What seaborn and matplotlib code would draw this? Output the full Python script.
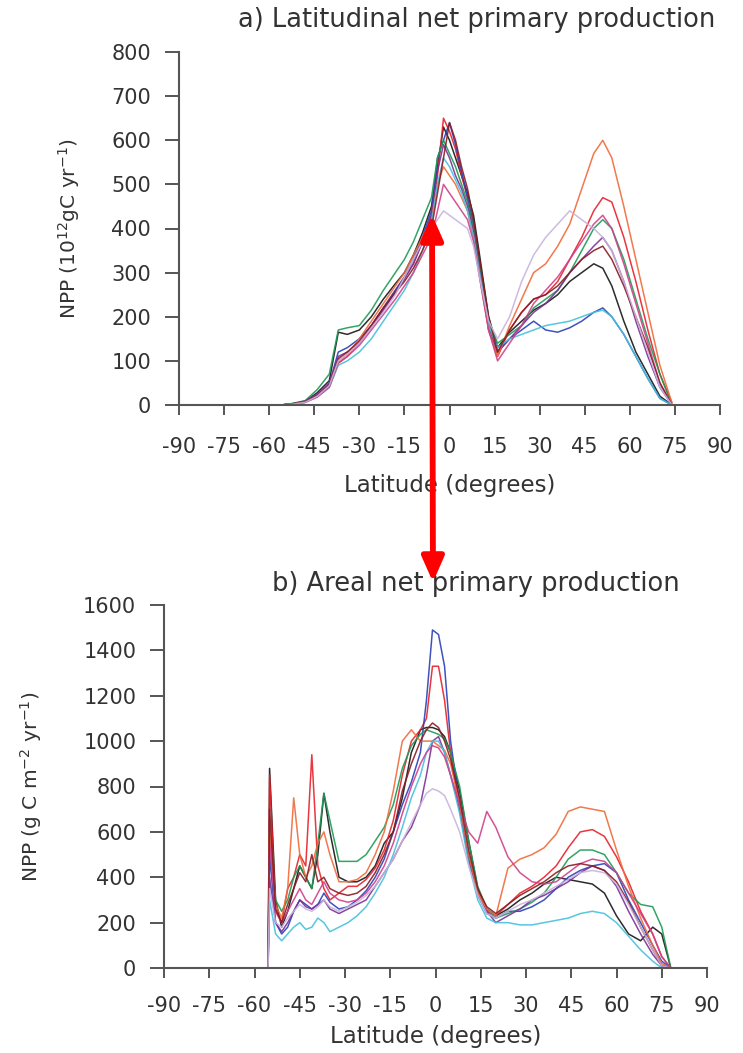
import numpy as np
import pandas as pd
import matplotlib
matplotlib.use("Agg")
import matplotlib.pyplot as plt
from matplotlib.patches import FancyArrowPatch
import seaborn as sns

# ---------------- data ----------------
MODELS = ["black", "red", "blue", "green", "purple", "orange", "cyan", "magenta", "maroon", "lavender"]
COLORS = {"black": "#151515", "red": "#e8202a", "blue": "#2840b8", "green": "#1e9a55",
          "purple": "#7a3296", "orange": "#f06a3a", "cyan": "#45c0dd", "magenta": "#d0408a",
          "maroon": "#8a1c24", "lavender": "#c8b4dc"}

LAT_A = [-56, -52, -48, -44, -40, -37, -34, -30, -26, -22, -18, -15, -12, -9, -6, -4, -2, 0, 2, 4,
         6, 8, 10, 13, 16, 20, 24, 28, 32, 36, 40, 44, 48, 51, 54, 58, 62, 66, 70, 74]

NPP_A = {
    "black":    [0, 3, 8, 28, 55, 165, 160, 170, 200, 240, 275, 300, 340, 390, 450, 540, 630, 600, 560, 520,
                 480, 430, 340, 200, 130, 165, 190, 215, 230, 250, 280, 300, 320, 310, 270, 190, 120, 70, 20, 0],
    "red":      [0, 2, 6, 20, 45, 95, 110, 140, 180, 220, 260, 290, 320, 370, 430, 520, 650, 620, 580, 520,
                 470, 400, 310, 180, 110, 170, 210, 240, 250, 280, 330, 380, 440, 470, 460, 380, 280, 170, 70, 5],
    "blue":     [0, 3, 8, 22, 48, 120, 130, 150, 180, 220, 260, 290, 330, 380, 440, 560, 600, 640, 590, 530,
                 470, 410, 320, 170, 120, 150, 170, 190, 170, 165, 175, 190, 210, 220, 200, 160, 110, 60, 15, 0],
    "green":    [0, 4, 10, 35, 70, 170, 175, 180, 215, 260, 300, 330, 370, 420, 470, 560, 600, 570, 540, 500,
                 460, 400, 320, 190, 140, 160, 180, 220, 240, 260, 300, 350, 400, 420, 400, 330, 240, 150, 70, 0],
    "purple":   [0, 3, 9, 25, 50, 110, 120, 140, 175, 215, 255, 285, 320, 370, 430, 530, 590, 560, 520, 490,
                 450, 390, 300, 180, 120, 150, 180, 210, 230, 260, 300, 330, 360, 380, 350, 280, 190, 110, 40, 0],
    "orange":   [0, 2, 7, 20, 42, 100, 115, 150, 190, 230, 270, 300, 340, 380, 420, 500, 540, 520, 500, 470,
                 440, 380, 290, 170, 110, 180, 240, 300, 320, 360, 410, 490, 570, 600, 560, 450, 330, 210, 90, 5],
    "cyan":     [0, 2, 6, 18, 40, 90, 100, 120, 150, 190, 230, 260, 300, 350, 410, 500, 560, 540, 510, 480,
                 440, 380, 300, 180, 130, 150, 160, 170, 180, 185, 190, 200, 210, 215, 200, 160, 110, 60, 15, 0],
    "magenta":  [0, 2, 6, 18, 40, 95, 110, 135, 170, 205, 240, 270, 300, 340, 380, 440, 500, 480, 460, 440,
                 420, 370, 290, 170, 100, 140, 180, 230, 260, 290, 330, 370, 410, 430, 400, 320, 230, 140, 50, 0],
    "maroon":   [0, 3, 7, 22, 45, 105, 120, 145, 180, 220, 255, 280, 310, 350, 400, 480, 560, 640, 600, 540,
                 490, 420, 330, 200, 120, 170, 210, 240, 250, 270, 300, 330, 350, 360, 330, 270, 200, 130, 50, 0],
    "lavender": [0, 2, 6, 20, 44, 100, 115, 140, 175, 210, 250, 290, 330, 370, 400, 420, 440, 430, 420, 410,
                 400, 360, 290, 190, 150, 200, 280, 340, 380, 410, 440, 420, 400, 380, 350, 280, 200, 120, 40, 0],
}

LAT_B = [-55.5, -55, -53, -51, -49, -47, -45, -43, -41, -39, -37, -35, -32, -29, -26, -23, -20, -17, -14, -11,
         -8, -5, -3, -1, 1, 3, 5, 8, 11, 14, 17, 20, 24, 28, 32, 36, 40, 44, 48, 52, 56, 60, 64, 68, 72, 75, 78]

NPP_B = {
    "black":    [0, 880, 300, 180, 250, 350, 450, 400, 350, 500, 770, 600, 400, 380, 380, 400, 450, 550, 600, 750,
                 950, 1050, 1060, 1060, 1050, 1020, 950, 780, 560, 350, 260, 230, 260, 300, 330, 370, 400, 390, 380,
                 370, 330, 230, 150, 120, 180, 150, 0],
    "red":      [0, 850, 250, 200, 350, 400, 500, 450, 940, 450, 350, 300, 330, 360, 360, 390, 440, 520, 650, 850,
                 1000, 1050, 1100, 1330, 1330, 1180, 950, 700, 480, 330, 250, 230, 280, 330, 360, 400, 450, 530, 600,
                 610, 580, 490, 380, 250, 150, 50, 0],
    "blue":     [0, 500, 200, 150, 180, 250, 300, 280, 260, 280, 330, 290, 260, 270, 300, 340, 400, 480, 600, 720,
                 820, 950, 1180, 1490, 1470, 1330, 1000, 720, 480, 320, 240, 220, 250, 250, 270, 300, 350, 400, 430,
                 450, 460, 420, 300, 200, 100, 30, 0],
    "green":    [0, 600, 300, 250, 300, 400, 450, 400, 350, 550, 770, 650, 470, 470, 470, 500, 560, 620, 720, 880,
                 980, 1030, 1050, 1040, 1030, 1010, 950, 800, 560, 360, 260, 220, 240, 260, 290, 330, 400, 480, 520,
                 520, 500, 420, 330, 280, 270, 180, 0],
    "purple":   [0, 400, 200, 160, 200, 250, 300, 270, 260, 280, 300, 260, 240, 260, 280, 300, 360, 420, 480, 560,
                 620, 720, 850, 1000, 1020, 950, 850, 700, 480, 330, 250, 200, 230, 260, 300, 320, 350, 380, 420,
                 450, 430, 360, 250, 150, 60, 10, 0],
    "orange":   [0, 600, 280, 220, 350, 750, 500, 400, 450, 550, 600, 500, 380, 380, 390, 420, 500, 600, 780, 1000,
                 1050, 1000, 1000, 1000, 980, 960, 900, 720, 500, 330, 260, 230, 440, 480, 500, 530, 590, 690, 710,
                 700, 690, 520, 360, 220, 100, 20, 0],
    "cyan":     [0, 300, 150, 120, 150, 180, 200, 170, 180, 220, 200, 160, 180, 200, 230, 270, 330, 400, 500, 620,
                 750, 850, 950, 1000, 1000, 950, 850, 680, 460, 300, 220, 200, 200, 190, 190, 200, 210, 220, 240,
                 250, 240, 200, 140, 80, 30, 0, 0],
    "magenta":  [0, 550, 250, 200, 250, 300, 350, 300, 280, 330, 380, 330, 300, 290, 300, 330, 380, 450, 550, 680,
                 800, 900, 950, 980, 970, 930, 850, 720, 600, 550, 690, 620, 490, 420, 380, 370, 380, 420, 460,
                 480, 470, 420, 330, 240, 150, 50, 0],
    "maroon":   [0, 700, 260, 200, 280, 350, 420, 380, 500, 380, 400, 350, 330, 320, 330, 360, 420, 500, 600, 780,
                 900, 1000, 1050, 1080, 1060, 1000, 920, 750, 520, 350, 270, 240, 280, 320, 350, 380, 420, 450, 460,
                 450, 430, 380, 290, 180, 80, 10, 0],
    "lavender": [0, 350, 200, 180, 220, 250, 280, 260, 250, 270, 300, 270, 250, 270, 290, 320, 360, 420, 480, 560,
                 640, 720, 770, 790, 780, 760, 700, 600, 450, 320, 240, 220, 250, 280, 300, 330, 360, 390, 420,
                 430, 420, 370, 280, 180, 80, 10, 0],
}

X_TICKS = [-90, -75, -60, -45, -30, -15, 0, 15, 30, 45, 60, 75, 90]
Y_TICKS_A = [0, 100, 200, 300, 400, 500, 600, 700, 800]
Y_TICKS_B = [0, 200, 400, 600, 800, 1000, 1200, 1400, 1600]

TITLE_A = "a) Latitudinal net primary production"
TITLE_B = "b) Areal net primary production"
XLABEL = "Latitude (degrees)"
YLABEL_A = "NPP (10$^{12}$gC yr$^{-1}$)"
YLABEL_B = "NPP (g C m$^{-2}$ yr$^{-1}$)"

# ---------------- long form ----------------
def to_long(lat, table):
    rows = []
    for m in MODELS:
        for la, v in zip(lat, table[m]):
            rows.append((m, la, v))
    return pd.DataFrame(rows, columns=["model", "lat", "npp"])

df_a = to_long(LAT_A, NPP_A)
df_b = to_long(LAT_B, NPP_B)

sns.set_theme(style="white")
plt.rcParams["font.family"] = ["DejaVu Sans"]

W, H = 743, 1053
fig = plt.figure(figsize=(W / 100, H / 100), dpi=100)
fig.patch.set_facecolor("white")

ax_a = fig.add_axes([179 / W, 1 - 405 / H, 541 / W, 353 / H])
ax_b = fig.add_axes([164 / W, 1 - 968 / H, 543 / W, 363 / H])

AX_COLOR = "#555555"
TXT_COLOR = "#333333"

panels = [(ax_a, df_a, Y_TICKS_A, YLABEL_A, -0.179, 16, 12),
          (ax_b, df_b, Y_TICKS_B, YLABEL_B, -0.221, 13, 7)]

for ax, df, yt, ylab, ylx, xpad, xlpad in panels:
    sns.lineplot(data=df, x="lat", y="npp", hue="model", hue_order=MODELS, palette=COLORS,
                 ax=ax, legend=False, linewidth=1.1, alpha=0.9, sort=False, estimator=None)
    ax.set_xlim(-90, 90)
    ax.set_ylim(yt[0], yt[-1])
    ax.set_xticks(X_TICKS)
    ax.set_xticklabels([str(t) for t in X_TICKS])
    ax.set_yticks(yt)
    ax.set_facecolor("white")
    for s in ["top", "right"]:
        ax.spines[s].set_visible(False)
    for s in ["left", "bottom"]:
        ax.spines[s].set_color(AX_COLOR)
        ax.spines[s].set_linewidth(1.5)
    ax.tick_params(axis="y", direction="out", length=10, width=1.4, color=AX_COLOR,
                   labelsize=15, labelcolor=TXT_COLOR, pad=10, left=True)
    ax.tick_params(axis="x", direction="out", length=7, width=1.4, color=AX_COLOR,
                   labelsize=15, labelcolor=TXT_COLOR, pad=xpad, bottom=True)
    ax.set_xlabel(XLABEL, fontsize=16.5, color=TXT_COLOR, labelpad=xlpad)
    ax.set_ylabel(ylab, fontsize=14.5, color=TXT_COLOR)
    ax.yaxis.set_label_coords(ylx, 0.5)
    ax.grid(False)

fig.text(477 / W, 1 - 20 / H, TITLE_A, ha="center", va="center", fontsize=18.5, color=TXT_COLOR)
fig.text(476 / W, 1 - 584 / H, TITLE_B, ha="center", va="center", fontsize=18.5, color=TXT_COLOR)

arrow = FancyArrowPatch((432 / W, 1 - 212 / H), (433 / W, 1 - 585 / H),
                        transform=fig.transFigure, arrowstyle="<|-|>,head_length=1.25,head_width=0.55",
                        mutation_scale=12, color="#ff0000", linewidth=4.2, zorder=10)
fig.patches.append(arrow)

fig.savefig("out.png", dpi=100)
